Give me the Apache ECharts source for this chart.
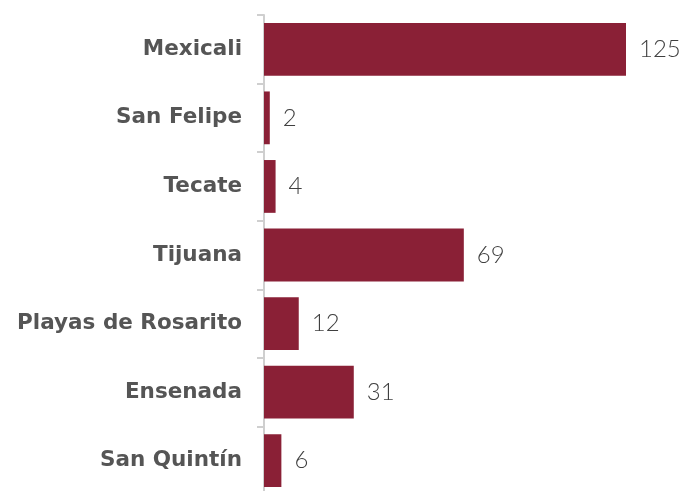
<!DOCTYPE html>
<html>
<head>
<meta charset="utf-8">
<script src="https://cdn.jsdelivr.net/npm/echarts@6/dist/echarts.min.js"></script>
<style>
    html, body { margin: 0; padding: 0; background: #fff; }
    #chart { width: 680px; height: 491px; }
</style>
</head>
<body>
<div id="chart"></div>
<script>
    // municipios y casos
    var municipios = ['Mexicali', 'San Felipe', 'Tecate', 'Tijuana', 'Playas de Rosarito', 'Ensenada', 'San Quintín'];
    var casos = [125, 2, 4, 69, 12, 31, 6];

    var chart = echarts.init(document.getElementById('chart'));
    var option = {
        animation: false,
        grid: {
            left: 264,
            top: 15,
            width: 362,
            height: 480,
            outerBoundsMode: 'none'
        },
        xAxis: {
            type: 'value',
            min: 0,
            max: 125,
            show: false
        },
        yAxis: {
            type: 'category',
            inverse: true,
            data: municipios,
            axisLine: { show: true, lineStyle: { color: '#cfcfcf', width: 2 } },
            axisTick: { show: true, length: 7, lineStyle: { color: '#cfcfcf', width: 2 } },
            axisLabel: {
                margin: 22,
                color: '#555555',
                fontFamily: 'DejaVu Sans',
                fontWeight: 'bold',
                fontSize: 21.5
            }
        },
        series: [
            {
                type: 'bar',
                data: casos,
                barCategoryGap: '23%',
                itemStyle: { color: '#8a2036' },
                label: {
                    show: true,
                    position: 'right',
                    distance: 13,
                    color: '#3f3f3f',
                    fontFamily: 'Lato',
                    fontWeight: 300,
                    fontSize: 24
                }
            }
        ]
    };
    chart.setOption(option);
</script>
</body>
</html>
